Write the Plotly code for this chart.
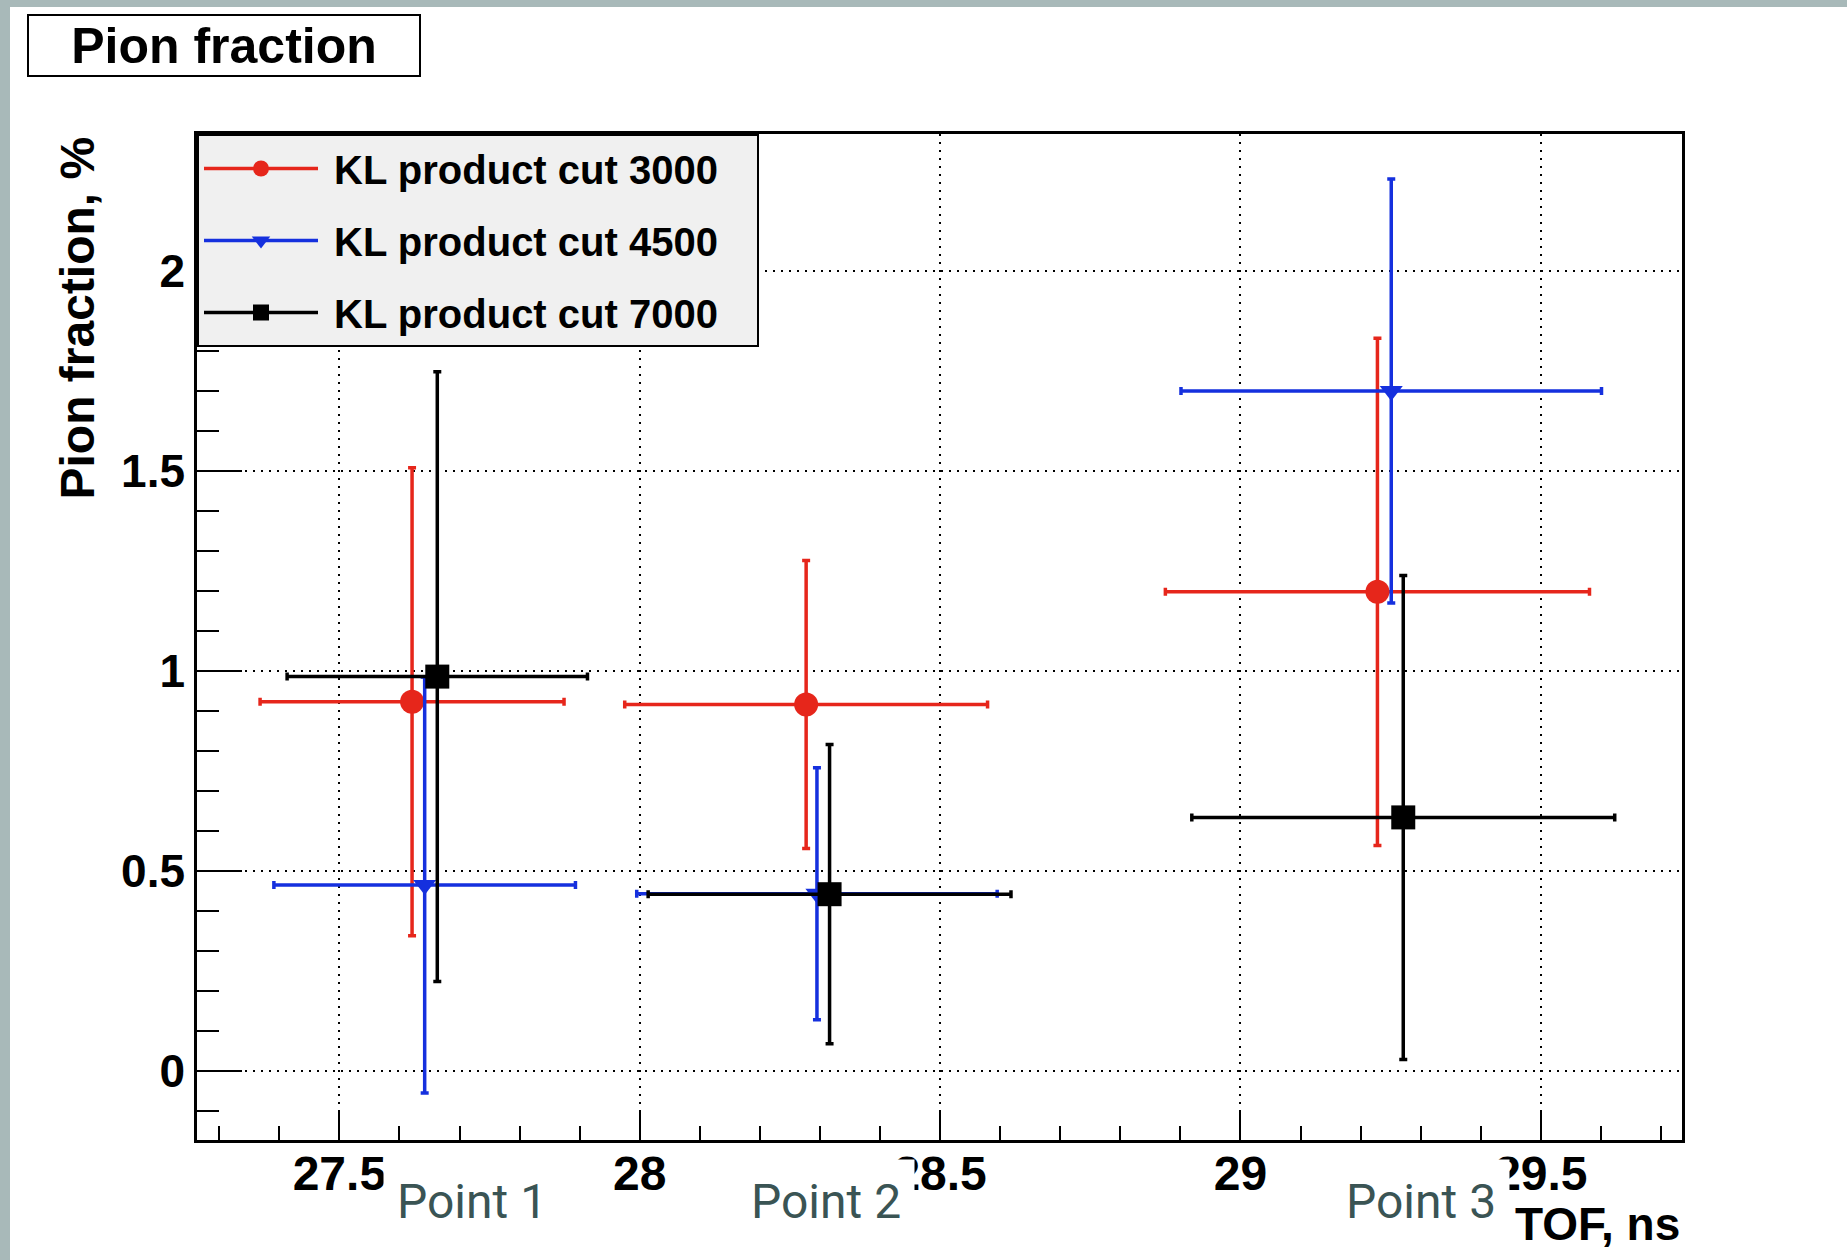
import plotly.graph_objects as go

# ---------------- data ----------------
series_names = ["KL product cut 3000", "KL product cut 4500", "KL product cut 7000"]

tof_3000 = [27.621, 28.277, 29.228]
tof_err_3000 = [0.253, 0.302, 0.353]
frac_3000 = [0.923, 0.916, 1.198]
frac_err_3000 = [0.585, 0.360, 0.634]

tof_4500 = [27.642, 28.295, 29.251]
tof_err_4500 = [0.251, 0.300, 0.350]
frac_4500 = [0.465, 0.443, 1.700]
frac_err_4500 = [0.520, 0.315, 0.530]

tof_7000 = [27.663, 28.316, 29.271]
tof_err_7000 = [0.250, 0.302, 0.352]
frac_7000 = [0.986, 0.442, 0.634]
frac_err_7000 = [0.762, 0.374, 0.605]

x_tick_vals = [27.5, 28.0, 28.5, 29.0, 29.5]
y_tick_vals = [0, 0.5, 1.0, 1.5, 2.0]
point_labels = ["Point 1", "Point 2", "Point 3"]

# ---------------- layout helpers ----------------
W, H = 1847, 1260
L, R, T, B = 197, 1682, 134, 1140


def px(xp):
    return (xp - L) / (R - L)


def py(yp):
    return (B - yp) / (B - T)


def gapped(seq):
    out = []
    for i, v in enumerate(seq):
        if i:
            out.append(None)
        out.append(v)
    return out


BOLD = dict(family="Liberation Sans, Arial, Helvetica, sans-serif", weight="bold", color="black")

styles = [
    dict(color="#e6261b", symbol="circle", size=24),
    dict(color="#1530de", symbol="triangle-down", size=20),
    dict(color="#000000", symbol="square", size=24),
]
datasets = [
    (tof_3000, tof_err_3000, frac_3000, frac_err_3000),
    (tof_4500, tof_err_4500, frac_4500, frac_err_4500),
    (tof_7000, tof_err_7000, frac_7000, frac_err_7000),
]

fig = go.Figure()
for name, st, (xs, exs, ys, eys) in zip(series_names, styles, datasets):
    fig.add_trace(go.Scatter(
        x=gapped(xs), y=gapped(ys),
        name="&nbsp;" + name + "&nbsp;&nbsp;&nbsp;", legendgroup=name,
        mode="lines+markers", connectgaps=False,
        line=dict(color=st["color"], width=3.5),
        marker=dict(color=st["color"], symbol=st["symbol"], size=st["size"], line=dict(width=0)),
        error_x=dict(type="data", array=gapped(exs), color=st["color"], thickness=3.5, width=4),
        error_y=dict(type="data", array=gapped(eys), color=st["color"], thickness=3.5, width=4),
    ))

axis_common = dict(
    ticks="inside", tickcolor="black", tickwidth=2,
    showline=True, linecolor="black", linewidth=2.5, mirror=True,
    showgrid=True, gridcolor="black", gridwidth=2, griddash="2px,6px",
    zeroline=False,
)

fig.update_xaxes(
    range=[27.263, 29.735], tickvals=x_tick_vals, ticktext=[f"{v:g}" for v in x_tick_vals],
    ticklen=29, ticklabelstandoff=-10, tickfont=dict(size=48, **BOLD),
    minor=dict(ticks="inside", dtick=0.1, tick0=27.5, ticklen=14, tickwidth=2, tickcolor="black", showgrid=False),
    **axis_common,
)
fig.update_yaxes(
    range=[-0.1725, 2.3425], tickvals=y_tick_vals, ticktext=[f"{v:g}" for v in y_tick_vals],
    ticklen=45, ticklabelstandoff=0, tickfont=dict(size=46, **BOLD),
    minor=dict(ticks="inside", dtick=0.1, tick0=0, ticklen=22, tickwidth=2, tickcolor="black", showgrid=False),
    **axis_common,
)

annotations = [
    dict(text="Pion fraction", xref="paper", yref="paper", x=px(27), y=py(14),
         xanchor="left", yanchor="top", showarrow=False, font=dict(size=50, **BOLD),
         bordercolor="black", borderwidth=2, borderpad=1, bgcolor="white", width=388, height=57),
    dict(text="Pion fraction, %", xref="paper", yref="paper", x=px(77), y=py(134),
         xanchor="center", yanchor="top", textangle=-90, showarrow=False, font=dict(size=48, **BOLD)),
    dict(text="TOF, ns", xref="paper", yref="paper", x=px(1682), y=py(1224),
         xanchor="right", yanchor="middle", showarrow=False, font=dict(size=46, **BOLD)),
]
point_x = [27.721, 28.31, 29.30]
for lab, xv in zip(point_labels, point_x):
    annotations.append(dict(
        text=lab, xref="x", yref="paper", x=xv, y=py(1201), xanchor="center", yanchor="middle",
        showarrow=False, bgcolor="white", borderpad=13,
        font=dict(family="Roboto, Liberation Sans Narrow, DejaVu Sans Condensed, sans-serif",
                  size=48, color="#3a5454"),
    ))

shapes = [
    dict(type="rect", xref="paper", yref="paper", x0=px(0), x1=px(10), y0=py(H), y1=py(0),
         fillcolor="#a8b9b9", line=dict(width=0), layer="above"),
    dict(type="rect", xref="paper", yref="paper", x0=px(0), x1=px(W), y0=py(7), y1=py(0),
         fillcolor="#a8b9b9", line=dict(width=0), layer="above"),
]

fig.update_layout(
    width=W, height=H, autosize=False,
    margin=dict(l=L, r=W - R, t=T, b=H - B, pad=0),
    paper_bgcolor="white", plot_bgcolor="white",
    showlegend=True,
    legend=dict(x=0, y=1, xanchor="left", yanchor="top", bgcolor="#f0f0f0",
                bordercolor="black", borderwidth=2, font=dict(size=40, **BOLD),
                itemwidth=114, tracegroupgap=17, traceorder="grouped"),
    annotations=annotations, shapes=shapes,
)

fig.write_html("out.html", config={"displayModeBar": False},
               post_script="document.body.style.margin='0';")
